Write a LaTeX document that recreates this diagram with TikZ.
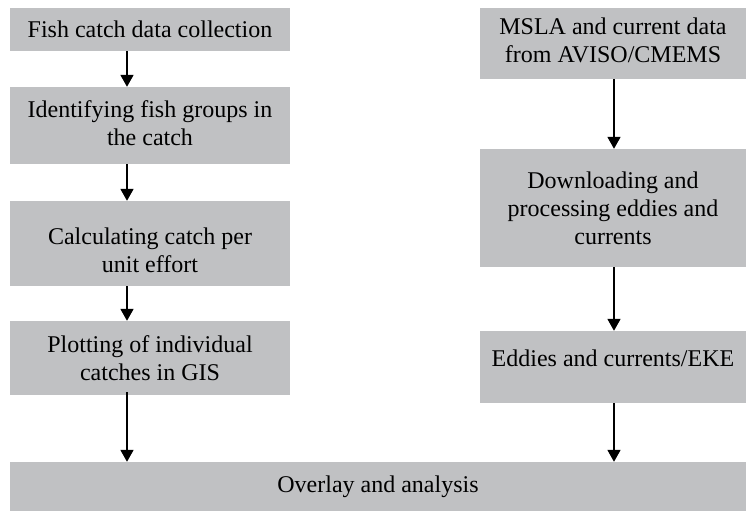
\documentclass[tikz,border=0pt]{standalone}
\usepackage{fontspec}
\setmainfont{Liberation Serif}
\usetikzlibrary{arrows.meta}
\definecolor{boxgray}{RGB}{192,193,195}
\tikzset{
  box/.style={fill=boxgray, inner sep=0pt, align=center,
    font=\fontsize{24}{28}\selectfont},
  arr/.style={line width=1.8pt, -{Triangle[length=12pt,width=13pt]}}
}
\begin{document}
\begin{tikzpicture}[x=1pt,y=-1pt]
\useasboundingbox (0,0) rectangle (748,511);
\node[box, minimum width=280pt, minimum height=43pt] (L1) at (150,29.5) {Fish catch data collection};
\node[box, minimum width=280pt, minimum height=77pt, text height=41pt] (L2) at (150,125.5) {Identifying fish groups in\\the catch};
\node[box, minimum width=280pt, minimum height=85pt, text height=58pt] (L3) at (150,243.5) {Calculating catch per\\unit effort};
\node[box, minimum width=280pt, minimum height=74pt] (L4) at (150,358) {Plotting of individual\\catches in GIS};
\node[box, minimum width=266pt, minimum height=71pt, text height=38pt] (R1) at (613,43.5) {MSLA and current data\\from AVISO/CMEMS};
\node[box, minimum width=266pt, minimum height=118pt] (R2) at (613,208) {Downloading and\\processing eddies and\\currents};
\node[box, minimum width=266pt, minimum height=72pt, text depth=17pt] (R3) at (613,367) {Eddies and currents/EKE};
\node[box, minimum width=736pt, minimum height=49pt] (B) at (378,486.5) {Overlay and analysis};
\coordinate (xl) at (127,0);
\coordinate (xr) at (614,0);
\draw[arr] (L1.south -| xl) -- (L2.north -| xl);
\draw[arr] (L2.south -| xl) -- (L3.north -| xl);
\draw[arr] (L3.south -| xl) -- (L4.north -| xl);
\draw[arr] ([yshift=3pt]L4.south -| xl) -- (B.north -| xl);
\draw[arr] (R1.south -| xr) -- (R2.north -| xr);
\draw[arr] (R2.south -| xr) -- (R3.north -| xr);
\draw[arr] (R3.south -| xr) -- (B.north -| xr);
\end{tikzpicture}
\end{document}
